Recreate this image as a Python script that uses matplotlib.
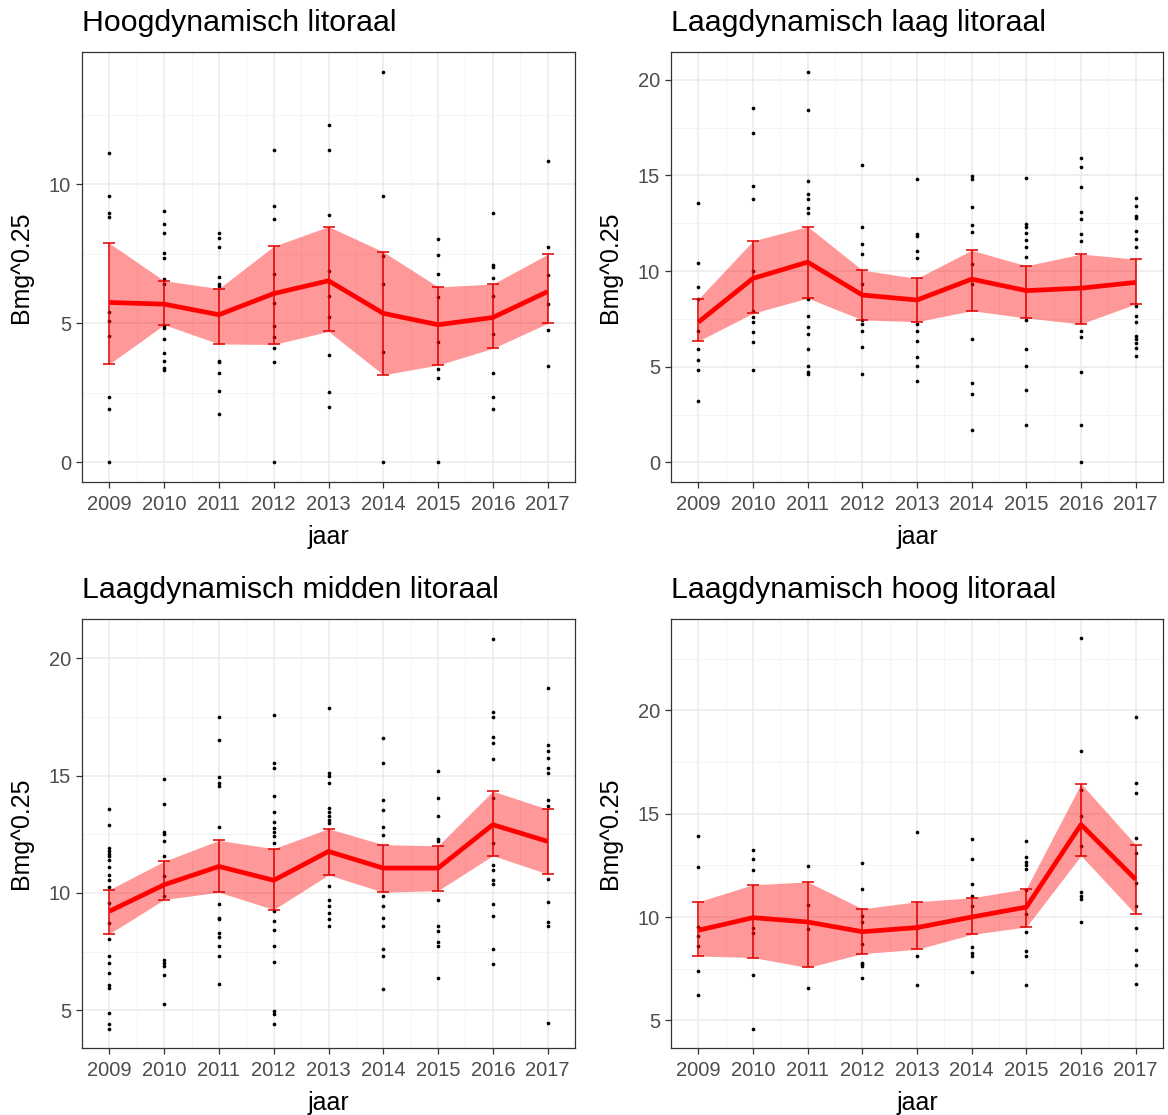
import matplotlib
matplotlib.use('Agg')
from matplotlib import pyplot as plt
from matplotlib.ticker import MultipleLocator, FixedLocator

plt.rcParams['font.family'] = ['Liberation Sans', 'DejaVu Sans']

jaren = [2009, 2010, 2011, 2012, 2013, 2014, 2015, 2016, 2017]

# Hoogdynamisch litoraal
hd_gem = [5.75, 5.69, 5.31, 6.07, 6.53, 5.36, 4.95, 5.21, 6.14]
hd_laag = [3.54, 4.95, 4.26, 4.24, 4.71, 3.15, 3.50, 4.10, 5.00]
hd_hoog = [7.88, 6.53, 6.25, 7.77, 8.48, 7.57, 6.31, 6.41, 7.48]
hd_punten = [
    [11.12, 9.56, 8.95, 8.81, 5.39, 5.08, 4.53, 2.35, 1.91, 0.0],
    [9.02, 8.56, 8.26, 7.52, 7.34, 6.59, 6.41, 4.90, 4.84, 4.43, 3.93, 3.66, 3.39, 3.33],
    [8.26, 8.06, 7.74, 6.65, 6.41, 6.34, 3.66, 3.60, 3.21, 2.56, 1.75],
    [11.22, 9.21, 8.76, 6.79, 5.73, 4.92, 4.52, 4.12, 3.61, 0.0],
    [12.14, 11.22, 8.90, 6.89, 5.99, 5.21, 3.88, 2.52, 2.00],
    [14.05, 9.56, 7.42, 6.41, 3.96, 0.0],
    [8.04, 7.45, 6.79, 5.93, 4.32, 3.36, 3.02, 0.0],
    [8.95, 7.10, 7.03, 6.63, 5.99, 4.62, 3.21, 2.35, 1.91],
    [10.82, 7.74, 6.74, 5.69, 4.77, 3.46],
]

# Laagdynamisch laag litoraal
ll_gem = [7.33, 9.62, 10.47, 8.75, 8.49, 9.58, 8.98, 9.11, 9.41]
ll_laag = [6.34, 7.80, 8.59, 7.45, 7.36, 7.93, 7.55, 7.24, 8.28]
ll_hoog = [8.54, 11.58, 12.33, 10.05, 9.62, 11.09, 10.28, 10.89, 10.63]
ll_punten = [
    [13.54, 10.40, 9.15, 8.54, 6.89, 5.94, 5.33, 4.81, 3.21],
    [18.52, 17.20, 14.43, 13.77, 10.02, 7.93, 7.59, 7.33, 6.81, 6.28, 4.81],
    [20.43, 18.44, 14.70, 14.01, 13.75, 13.32, 13.02, 8.54, 7.67, 7.10, 6.72, 5.94, 5.05, 4.72, 4.60],
    [15.52, 12.31, 11.44, 10.92, 9.32, 7.45, 7.24, 6.89, 6.02, 4.60],
    [14.79, 11.93, 11.84, 11.06, 10.68, 7.24, 6.89, 6.37, 5.50, 5.03, 4.24],
    [14.97, 14.84, 13.35, 12.40, 12.07, 10.36, 9.32, 6.44, 4.17, 3.59, 1.68],
    [14.86, 12.45, 12.31, 12.01, 11.61, 11.27, 10.75, 7.45, 5.92, 5.03, 3.78, 1.96],
    [15.89, 15.43, 14.41, 13.11, 12.73, 11.93, 11.55, 6.89, 6.58, 4.74, 1.96, 0.0],
    [13.84, 13.39, 12.88, 12.76, 12.10, 11.70, 11.27, 8.19, 7.67, 7.33, 6.63, 6.46, 6.23, 5.97, 5.56],
]

# Laagdynamisch midden litoraal
lm_gem = [9.22, 10.35, 11.13, 10.54, 11.77, 11.06, 11.06, 12.91, 12.20]
lm_laag = [8.26, 9.72, 10.03, 9.29, 10.77, 10.03, 10.10, 11.59, 10.81]
lm_hoog = [10.14, 11.35, 12.24, 11.89, 12.74, 12.06, 12.01, 14.34, 13.57]
lm_punten = [
    [13.60, 12.91, 11.91, 11.77, 11.67, 11.56, 11.42, 11.11, 10.78, 10.57, 10.26, 9.57,
     8.72, 8.02, 7.33, 7.02, 6.60, 6.06, 5.96, 4.87, 4.40, 4.22],
    [14.85, 13.79, 12.62, 12.52, 12.20, 11.56, 10.71, 9.89, 7.16, 7.02, 6.88, 6.48, 5.25],
    [17.49, 16.52, 14.96, 14.68, 14.54, 12.81, 9.55, 8.94, 8.87, 8.30, 8.13, 7.73, 7.31, 6.13],
    [17.60, 15.53, 15.32, 14.14, 13.47, 13.01, 12.76, 12.62, 12.41, 12.13, 9.22, 8.79,
     8.41, 7.73, 7.07, 4.97, 4.82, 4.40],
    [17.87, 15.10, 14.99, 14.68, 13.62, 13.47, 13.26, 13.12, 12.98, 10.31, 9.72, 9.43, 9.15, 8.87, 8.58],
    [16.59, 15.53, 13.97, 13.54, 12.81, 12.48, 9.89, 9.46, 8.94, 8.58, 7.63, 7.31, 5.89],
    [15.22, 14.04, 13.29, 12.30, 12.20, 9.72, 8.58, 8.37, 7.90, 7.73, 6.36],
    [20.85, 17.73, 17.51, 16.66, 16.41, 15.70, 14.04, 12.13, 11.21, 10.99, 10.54, 10.40,
     9.55, 9.01, 7.63, 6.95],
    [18.75, 16.31, 16.05, 15.74, 15.32, 15.10, 13.97, 13.69, 10.60, 9.60, 8.75, 8.61, 4.44],
]

# Laagdynamisch hoog litoraal
lh_gem = [9.36, 9.97, 9.76, 9.29, 9.49, 10.00, 10.48, 14.47, 11.82]
lh_laag = [8.12, 8.04, 7.56, 8.23, 8.44, 9.16, 9.52, 12.97, 10.13]
lh_hoog = [10.74, 11.56, 11.70, 10.40, 10.74, 10.93, 11.37, 16.45, 13.50]
lh_punten = [
    [13.91, 12.41, 9.53, 9.08, 8.60, 7.38, 6.24],
    [13.22, 12.81, 12.27, 9.49, 9.24, 7.19, 4.61],
    [12.48, 10.56, 9.41, 6.58],
    [12.60, 11.38, 10.05, 9.76, 8.68, 7.80, 7.72, 7.64, 7.04],
    [14.12, 9.49, 8.12, 6.72],
    [13.78, 12.81, 11.61, 11.01, 10.53, 8.55, 8.28, 8.12, 7.32],
    [13.70, 12.89, 12.65, 12.54, 12.30, 11.33, 10.13, 9.28, 8.36, 8.12, 6.72],
    [23.47, 18.04, 16.16, 14.87, 13.42, 11.21, 11.01, 10.88, 9.76],
    [19.66, 16.48, 16.00, 13.83, 13.10, 11.66, 10.53, 9.49, 8.41, 7.67, 6.78],
]

titels = ['Hoogdynamisch litoraal', 'Laagdynamisch laag litoraal',
          'Laagdynamisch midden litoraal', 'Laagdynamisch hoog litoraal']
panelen = [(hd_gem, hd_laag, hd_hoog, hd_punten),
           (ll_gem, ll_laag, ll_hoog, ll_punten),
           (lm_gem, lm_laag, lm_hoog, lm_punten),
           (lh_gem, lh_laag, lh_hoog, lh_punten)]

W, H = 1168, 1115
# panel boxes in pixels: left, top, right, bottom
boxes = [(82, 52, 575, 482), (671, 52, 1163, 482),
         (82, 619, 575, 1048), (671, 619, 1163, 1048)]

fig = plt.figure(figsize=(W / 100, H / 100), dpi=100)

for (l, t, r, b), titel, (gem, laag, hoog, punten) in zip(boxes, titels, panelen):
    ax = fig.add_axes([l / W, 1 - b / H, (r - l) / W, (b - t) / H])
    px, py = [], []
    for jaar, vals in zip(jaren, punten):
        px += [jaar] * len(vals)
        py += vals
    ax.scatter(px, py, s=7, color='black', linewidths=0, zorder=2)
    ax.fill_between(jaren, laag, hoog, color='red', alpha=0.4, linewidth=0, zorder=3)
    err = [[g - lo for g, lo in zip(gem, laag)], [hi - g for g, hi in zip(gem, hoog)]]
    ax.errorbar(jaren, gem, yerr=err, fmt='none', ecolor='#E00000', elinewidth=1.1,
                capsize=4, capthick=1.1, zorder=4)
    ax.plot(jaren, gem, color='red', linewidth=3.4, solid_capstyle='butt', zorder=5)

    ax.set_xlim(2008.5, 2017.5)
    ax.margins(y=0.05)
    ax.set_xticks(jaren)
    ax.xaxis.set_minor_locator(FixedLocator([j + 0.5 for j in jaren[:-1]]))
    ax.yaxis.set_major_locator(MultipleLocator(5))
    ax.yaxis.set_minor_locator(MultipleLocator(2.5))
    ax.grid(which='major', color='#EBEBEB', linewidth=1.1, zorder=0)
    ax.grid(which='minor', color='#F2F2F2', linewidth=0.6, zorder=0)
    ax.set_axisbelow(True)
    for s in ax.spines.values():
        s.set_color('#333333')
        s.set_linewidth(0.9)
    ax.tick_params(which='major', length=4, width=0.9, color='#333333',
                   labelsize=14.5, labelcolor='#4D4D4D', pad=4)
    ax.tick_params(axis='x', which='major', pad=5)
    ax.tick_params(which='minor', length=0)
    ax.set_xlabel('jaar', fontsize=18, color='black', labelpad=8)
    ax.set_ylabel('Bmg^0.25', fontsize=18, color='black', labelpad=11)
    ax.set_title(titel, loc='left', fontsize=21.8, color='black', pad=15)

plt.savefig('out.png', dpi=100)
